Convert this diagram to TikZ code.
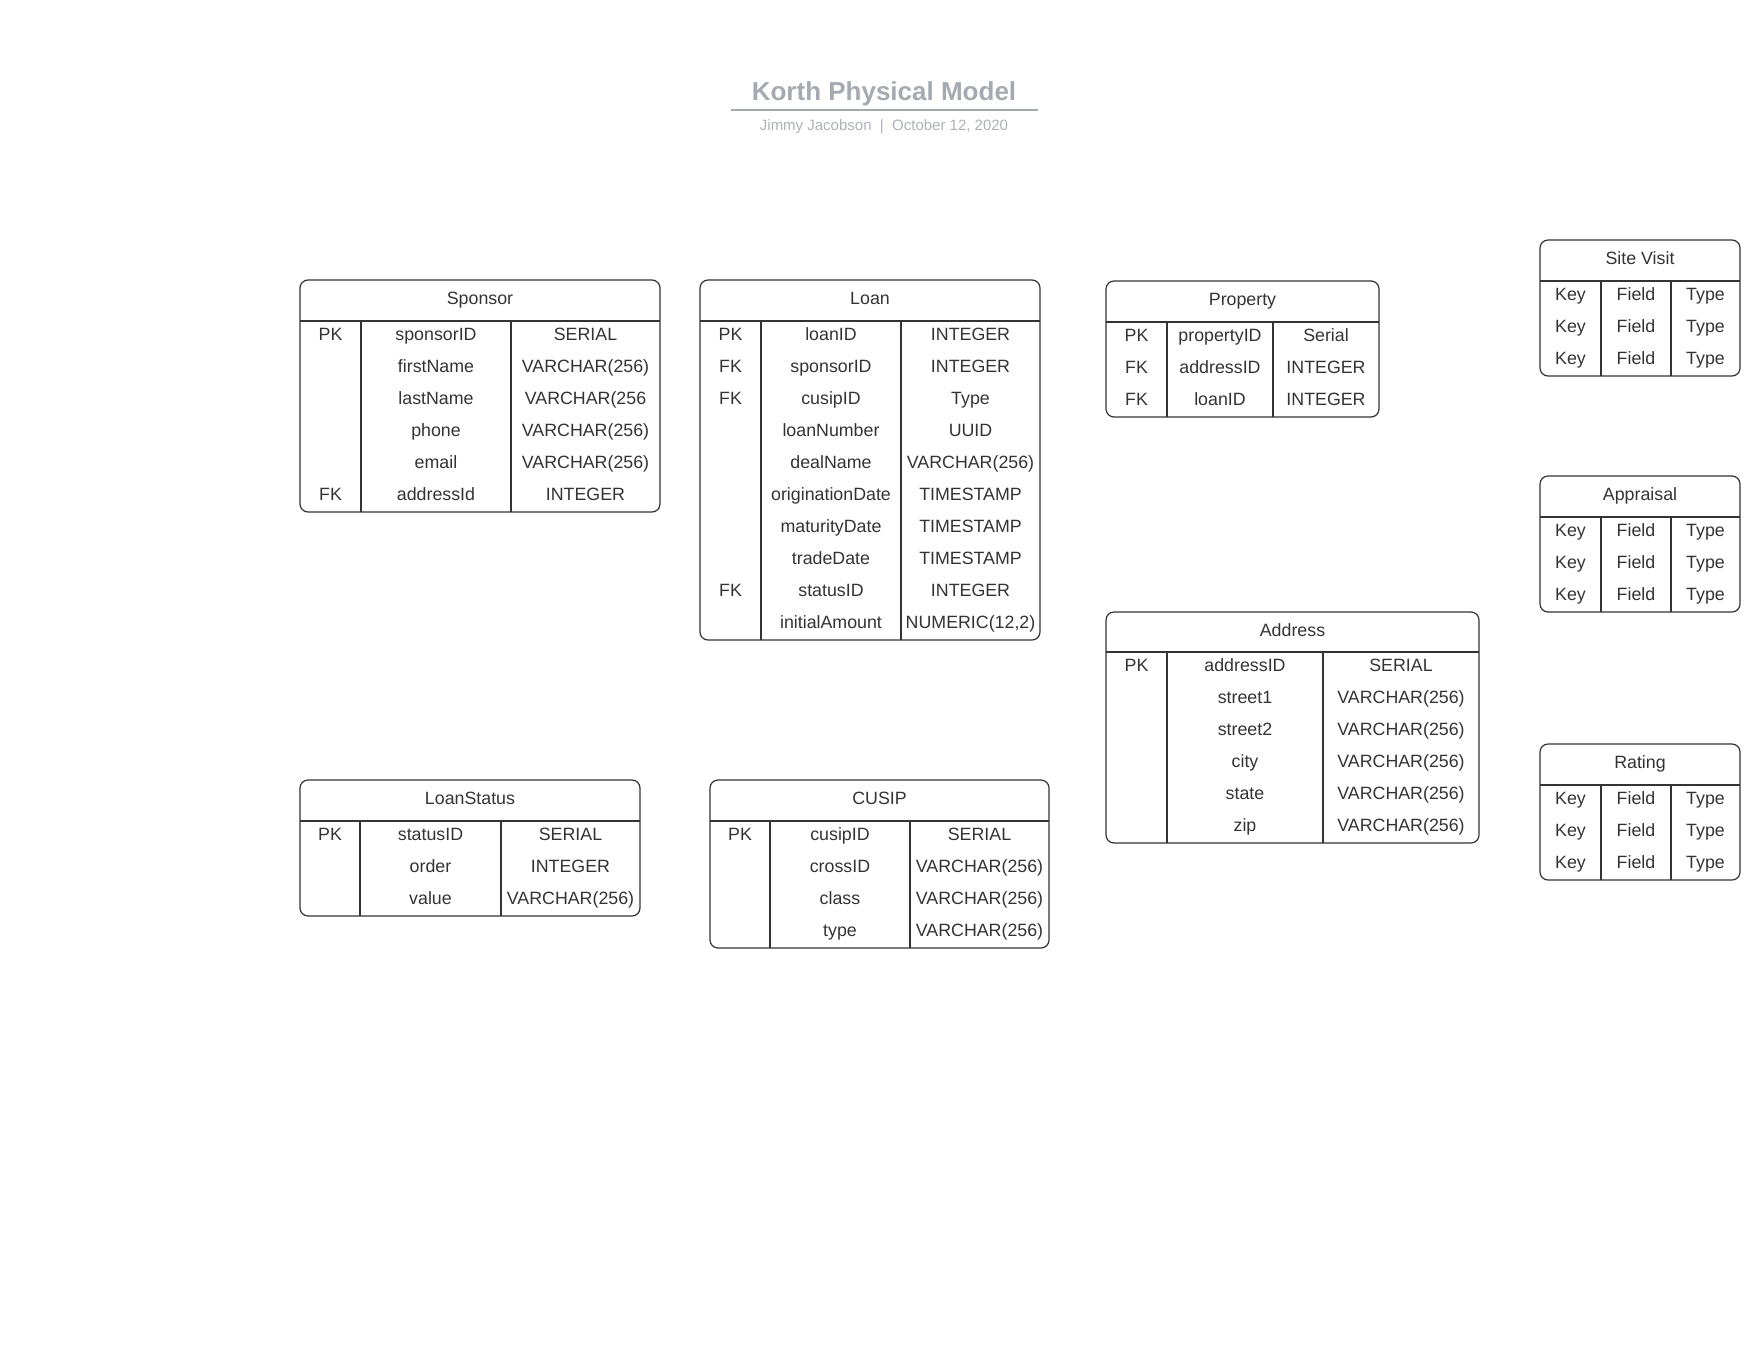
\documentclass[tikz,border=0pt]{standalone}
\usepackage{fontspec}
\setmainfont{Liberation Sans}
\usepackage{xcolor}
\definecolor{ink}{HTML}{333333}
\definecolor{titlegray}{HTML}{A4A9B2}
\definecolor{subgray}{HTML}{ADB1B8}

\begin{document}
\begin{tikzpicture}[
    x=1pt, y=-1pt,
    tblbox/.style={draw=ink, line width=1.2pt, rounded corners=8pt, anchor=north west, inner sep=0pt, outer sep=0pt},
    tblrule/.style={draw=ink, line width=1.2pt},
    cell/.style={anchor=base, inner sep=0pt, text=ink, font=\fontsize{17.8}{21}\selectfont},
    ttl/.style={anchor=base, inner sep=0pt, text=titlegray, font=\fontsize{26}{30}\selectfont\bfseries},
    byline/.style={anchor=base, inner sep=0pt, text=subgray, font=\fontsize{15}{18}\selectfont}
]
    \useasboundingbox (0,0) rectangle (1760,1360);

    % heading
    \node[ttl] (title) at (884,100.5) {Korth Physical Model};
    \draw[draw=titlegray, line width=1.6pt] (731,110) -- (1038,110);
    \node[byline] (author) at (884,130) {Jimmy Jacobson~~|~~October 12, 2020};

    % Sponsor
    \node[tblbox, minimum width=360pt, minimum height=232pt] (sponsor) at (300,280) {};
    \node[cell] (sponsor-h) at (480,304) {Sponsor};
    \draw[tblrule] (300,321) -- (660,321) (361,321) -- (361,512) (511,321) -- (511,512);
    \foreach \k/\f/\t [count=\i from 0] in {PK/sponsorID/SERIAL, /firstName/VARCHAR(256), /lastName/VARCHAR(256,
        /phone/VARCHAR(256), /email/VARCHAR(256), FK/addressId/INTEGER} {
        \node[cell] (sponsor-k\i) at (330.5,{340.3+32*\i}) {\k};
        \node[cell] (sponsor-f\i) at (436,{340.3+32*\i}) {\f};
        \node[cell] (sponsor-t\i) at (585.5,{340.3+32*\i}) {\t};
    }

    % Loan
    \node[tblbox, minimum width=340pt, minimum height=360pt] (loan) at (700,280) {};
    \node[cell] (loan-h) at (870,304) {Loan};
    \draw[tblrule] (700,321) -- (1040,321) (761,321) -- (761,640) (901,321) -- (901,640);
    \foreach \k/\f/\t [count=\i from 0] in {PK/loanID/INTEGER, FK/sponsorID/INTEGER, FK/cusipID/Type,
        /loanNumber/UUID, /dealName/VARCHAR(256), /originationDate/TIMESTAMP, /maturityDate/TIMESTAMP,
        /tradeDate/TIMESTAMP, FK/statusID/INTEGER, /initialAmount/{NUMERIC(12,2)}} {
        \node[cell] (loan-k\i) at (730.5,{340.3+32*\i}) {\k};
        \node[cell] (loan-f\i) at (831,{340.3+32*\i}) {\f};
        \node[cell] (loan-t\i) at (970.5,{340.3+32*\i}) {\t};
    }

    % Property
    \node[tblbox, minimum width=273pt, minimum height=136pt] (property) at (1106,281) {};
    \node[cell] (property-h) at (1242.5,305) {Property};
    \draw[tblrule] (1106,322) -- (1379,322) (1167,322) -- (1167,417) (1273,322) -- (1273,417);
    \foreach \k/\f/\t [count=\i from 0] in {PK/propertyID/Serial, FK/addressID/INTEGER, FK/loanID/INTEGER} {
        \node[cell] (property-k\i) at (1136.5,{341.3+32*\i}) {\k};
        \node[cell] (property-f\i) at (1220,{341.3+32*\i}) {\f};
        \node[cell] (property-t\i) at (1326,{341.3+32*\i}) {\t};
    }

    % Address
    \node[tblbox, minimum width=373pt, minimum height=231pt] (address) at (1106,612) {};
    \node[cell] (address-h) at (1292.5,636) {Address};
    \draw[tblrule] (1106,652) -- (1479,652) (1167,652) -- (1167,843) (1323,652) -- (1323,843);
    \foreach \k/\f/\t [count=\i from 0] in {PK/addressID/SERIAL, /street1/VARCHAR(256), /street2/VARCHAR(256),
        /city/VARCHAR(256), /state/VARCHAR(256), /zip/VARCHAR(256)} {
        \node[cell] (address-k\i) at (1136.5,{671.8+32*\i}) {\k};
        \node[cell] (address-f\i) at (1245,{671.8+32*\i}) {\f};
        \node[cell] (address-t\i) at (1401,{671.8+32*\i}) {\t};
    }

    % LoanStatus
    \node[tblbox, minimum width=340pt, minimum height=136pt] (status) at (300,780) {};
    \node[cell] (status-h) at (470,804) {LoanStatus};
    \draw[tblrule] (300,821) -- (640,821) (360,821) -- (360,916) (501,821) -- (501,916);
    \foreach \k/\f/\t [count=\i from 0] in {PK/statusID/SERIAL, /order/INTEGER, /value/VARCHAR(256)} {
        \node[cell] (status-k\i) at (330,{840.3+32*\i}) {\k};
        \node[cell] (status-f\i) at (430.5,{840.3+32*\i}) {\f};
        \node[cell] (status-t\i) at (570.5,{840.3+32*\i}) {\t};
    }

    % CUSIP
    \node[tblbox, minimum width=339pt, minimum height=168pt] (cusip) at (710,780) {};
    \node[cell] (cusip-h) at (879.5,804) {CUSIP};
    \draw[tblrule] (710,821) -- (1049,821) (770,821) -- (770,948) (910,821) -- (910,948);
    \foreach \k/\f/\t [count=\i from 0] in {PK/cusipID/SERIAL, /crossID/VARCHAR(256), /class/VARCHAR(256),
        /type/VARCHAR(256)} {
        \node[cell] (cusip-k\i) at (740,{840.3+32*\i}) {\k};
        \node[cell] (cusip-f\i) at (840,{840.3+32*\i}) {\f};
        \node[cell] (cusip-t\i) at (979.5,{840.3+32*\i}) {\t};
    }

    % placeholder tables on the right
    \foreach \nm/\ttlname/\y in {sitevisit/Site Visit/240, appraisal/Appraisal/476, rating/Rating/744} {
        \node[tblbox, minimum width=200pt, minimum height=136pt] (\nm) at (1540,\y) {};
        \node[cell] (\nm-h) at (1640,{\y+24}) {\ttlname};
        \draw[tblrule] (1540,{\y+41}) -- (1740,{\y+41})
            (1601,{\y+41}) -- (1601,{\y+136}) (1671,{\y+41}) -- (1671,{\y+136});
        \foreach \i in {0,1,2} {
            \node[cell] (\nm-k\i) at (1570.5,{\y+60.3+32*\i}) {Key};
            \node[cell] (\nm-f\i) at (1636,{\y+60.3+32*\i}) {Field};
            \node[cell] (\nm-t\i) at (1705.5,{\y+60.3+32*\i}) {Type};
        }
    }
\end{tikzpicture}
\end{document}
